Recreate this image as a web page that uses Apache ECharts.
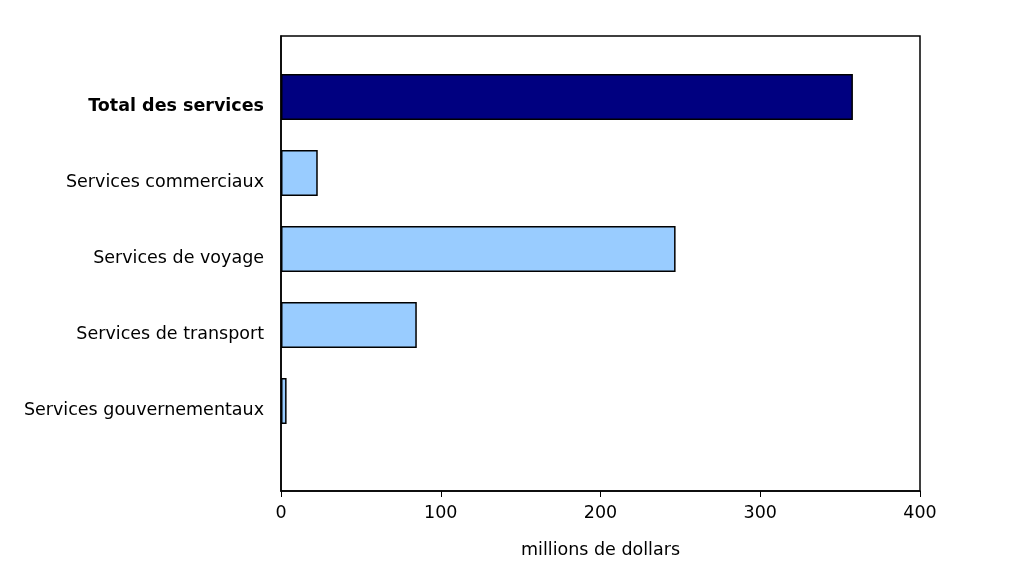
<!DOCTYPE html>
<html><head><meta charset="utf-8">
<script src="https://cdn.jsdelivr.net/npm/echarts@6/dist/echarts.min.js"></script>
<style>html,body{margin:0;padding:0;background:#fff}#c{width:1014px;height:565px}</style>
</head><body><div id="c"></div>
<script>
const categories = ['Total des services','Services commerciaux','Services de voyage','Services de transport','Services gouvernementaux'];
const values = [358, 23, 247, 85, 3.5];
const xTicks = [0,100,200,300,400];
const xName = 'millions de dollars';

const chart = echarts.init(document.getElementById('c'));
const font = 'DejaVu Sans, Verdana, sans-serif';
const fs = 17.5;
chart.setOption({
  animation:false,
  grid:[
    {left:281,top:36,width:639,height:455,show:true,borderColor:'#000',borderWidth:1.5,backgroundColor:'transparent'},
    {left:281,top:59,width:639,height:380,show:false}
  ],
  xAxis:[
    {gridIndex:0,type:'value',min:xTicks[0],max:xTicks[xTicks.length-1],interval:100,
    name:xName,nameLocation:'middle',nameGap:50,
    nameTextStyle:{fontFamily:font,fontSize:fs,color:'#000'},
    axisLine:{show:true,lineStyle:{color:'#000',width:1.5}},
    axisTick:{show:true,length:6,lineStyle:{color:'#000'}},
    axisLabel:{fontFamily:font,fontSize:fs,color:'#000',margin:13},
    splitLine:{show:false}},
    {gridIndex:1,type:'value',min:xTicks[0],max:xTicks[xTicks.length-1],show:false}
  ],
  yAxis:[
    {gridIndex:0,type:'value',min:0,max:1,axisLine:{show:true,lineStyle:{color:'#000',width:1.5}},
     axisTick:{show:false},axisLabel:{show:false},splitLine:{show:false}},
    {gridIndex:1,type:'category',data:categories,inverse:true,
    axisLine:{show:false},
    axisTick:{show:false},
    axisLabel:{fontFamily:font,fontSize:fs,color:'#000',margin:17,padding:[18,0,0,0],
      formatter:function(v){return v===categories[0]?'{b|'+v+'}':v;},
      rich:{b:{fontWeight:'bold',fontFamily:font,fontSize:fs,color:'#000'}}}}
  ],
  series:[{type:'bar',xAxisIndex:1,yAxisIndex:1,barWidth:46,
    data:values.map((v,i)=>({value:v,itemStyle:{color:i===0?'#000080':'#99CCFF',borderColor:'#000',borderWidth:1.5}}))}]
});
</script></body></html>
